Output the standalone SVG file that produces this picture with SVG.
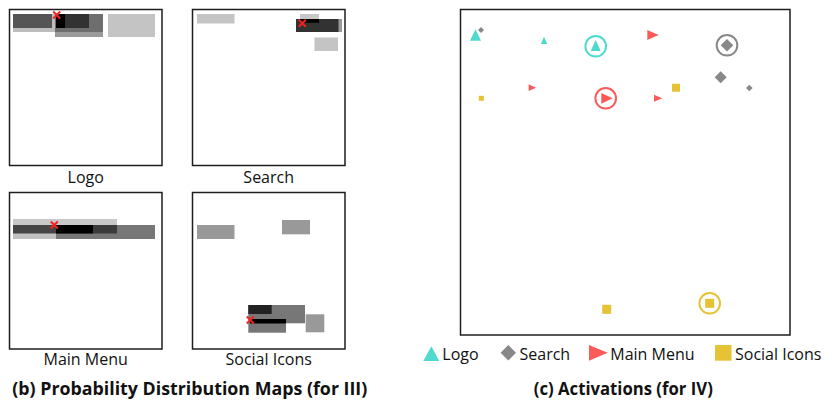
<svg xmlns="http://www.w3.org/2000/svg" width="825" height="403" viewBox="0 0 825 403">
<style>
  .frame { fill: #fff; stroke: #1e1e1e; stroke-width: 1.5; }
  .lbl { font-family: "Open Sans", "Liberation Sans", sans-serif; font-size: 16px; fill: #111; }
  .cap { font-family: "Open Sans", "Liberation Sans", sans-serif; font-size: 17px; font-weight: bold; fill: #111; }
  .x { stroke: #f2231f; stroke-width: 2; stroke-linecap: butt; }
  .teal { fill: #4fd9cf; }
  .red { fill: #fa5a58; }
  .gray { fill: #888; }
  .yel { fill: #e5c335; }
  .ring { fill: none; stroke-width: 2; }
</style>
<defs>
  <filter id="soft" x="-5%" y="-5%" width="110%" height="110%">
    <feGaussianBlur stdDeviation="0.5"/>
  </filter>
  <path id="xmark" d="M-3.5,-3.5 L3.5,3.5 M3.5,-3.5 L-3.5,3.5"/>
</defs>
<rect width="825" height="403" fill="#fff"/>

<!-- Logo map -->
<g id="map-logo">
  <rect class="frame" x="9.5" y="9.5" width="152.5" height="156"/>
  <g filter="url(#soft)">
    <rect x="13" y="14" width="44" height="18" fill="#bdbdbd"/>
    <rect x="55" y="14" width="48" height="23" fill="#9a9a9a"/>
    <rect x="55" y="14" width="48" height="18" fill="#6e6e6e"/>
    <rect x="13" y="14" width="39" height="14" fill="#555"/>
    <rect x="56" y="14" width="33" height="14" fill="#333"/>
    <rect x="56" y="14" width="9" height="14" fill="#000"/>
    <rect x="108" y="14" width="47" height="23" fill="#c4c4c4"/>
  </g>
  <use href="#xmark" class="x" x="56.7" y="15"/>
  <text class="lbl" x="85.7" y="183" text-anchor="middle">Logo</text>
</g>

<!-- Search map -->
<g id="map-search">
  <rect class="frame" x="192.5" y="9.5" width="152.5" height="156"/>
  <g filter="url(#soft)">
    <rect x="197" y="14" width="37.5" height="9.5" fill="#c4c4c4"/>
    <rect x="300" y="14" width="19" height="5.5" fill="#c8c8c8"/>
    <rect x="296" y="19" width="46" height="13" fill="#9a9a9a"/>
    <rect x="296" y="19" width="42.5" height="13" fill="#333"/>
    <rect x="300" y="19" width="19" height="3.7" fill="#000"/>
    <rect x="314.5" y="37.5" width="23.5" height="13.5" fill="#c4c4c4"/>
  </g>
  <use href="#xmark" class="x" x="302.3" y="23.3"/>
  <text class="lbl" x="268.7" y="183" text-anchor="middle">Search</text>
</g>

<!-- Main Menu map -->
<g id="map-mainmenu">
  <rect class="frame" x="9.5" y="192.5" width="152.5" height="156.5"/>
  <g filter="url(#soft)">
    <rect x="13" y="219" width="104" height="14.5" fill="#c8c8c8"/>
    <rect x="13" y="233" width="43" height="6" fill="#c0c0c0"/>
    <rect x="56" y="225" width="99" height="14" fill="#777"/>
    <rect x="13" y="225" width="80" height="8.5" fill="#444"/>
    <rect x="56" y="225" width="37" height="8.5" fill="#000"/>
    <rect x="93" y="225" width="24" height="8.5" fill="#3a3a3a"/>
  </g>
  <use href="#xmark" class="x" x="54.3" y="225"/>
  <text class="lbl" x="85.7" y="365" text-anchor="middle">Main Menu</text>
</g>

<!-- Social Icons map -->
<g id="map-social">
  <rect class="frame" x="192.5" y="192.5" width="152.5" height="156.5"/>
  <g filter="url(#soft)">
    <rect x="197" y="225" width="37.5" height="14" fill="#999"/>
    <rect x="282" y="220" width="28" height="14.3" fill="#999"/>
    <rect x="248.3" y="305" width="56.7" height="18.3" fill="#777"/>
    <rect x="248.3" y="305" width="23.4" height="9" fill="#222"/>
    <rect x="248.3" y="323" width="37.7" height="9.7" fill="#777"/>
    <rect x="250" y="319" width="36" height="4.5" fill="#000"/>
    <rect x="305.7" y="314.3" width="18.6" height="18" fill="#999"/>
  </g>
  <use href="#xmark" class="x" x="250.3" y="320"/>
  <text class="lbl" x="268.7" y="365" text-anchor="middle">Social Icons</text>
</g>

<text class="cap" x="189.8" y="395" text-anchor="middle" textLength="355" lengthAdjust="spacingAndGlyphs">(b) Probability Distribution Maps (for III)</text>

<!-- Activations plot -->
<g id="activations">
  <rect class="frame" x="460.5" y="9.5" width="329.5" height="325.5"/>
  <polygon class="teal" points="475.5,29.3 470,40.7 481,40.7"/>
  <polygon class="gray" points="481,27 484,30 481,33 478,30"/>
  <polygon class="teal" points="544,36.7 540.8,44 547.3,44"/>
  <circle class="ring" cx="595.7" cy="46.3" r="10.3" stroke="#4fd9cf"/>
  <polygon class="teal" points="595.7,40 590.7,51 600.7,51"/>
  <polygon class="red" points="647.3,30 647.3,40 658.7,35"/>
  <circle class="ring" cx="727" cy="45.3" r="10.3" stroke="#888"/>
  <polygon class="gray" points="727,39 733.3,45.3 727,51.6 720.7,45.3"/>
  <polygon class="red" points="528.7,84.3 528.7,91 536,87.7"/>
  <rect class="yel" x="478.8" y="95.8" width="5" height="5"/>
  <circle class="ring" cx="605.7" cy="98.3" r="10.3" stroke="#fa5a58"/>
  <polygon class="red" points="601.3,93 601.3,103.7 612.7,98.3"/>
  <polygon class="red" points="654,94.8 654,101.8 662.3,98.3"/>
  <rect class="yel" x="672" y="83.7" width="8" height="8"/>
  <polygon class="gray" points="720.7,71.3 726.7,77.3 720.7,83.3 714.7,77.3"/>
  <polygon class="gray" points="749.3,84.7 752.6,88 749.3,91.3 746,88"/>
  <rect class="yel" x="602.2" y="304.8" width="9" height="9"/>
  <circle class="ring" cx="709.7" cy="303.3" r="10.3" stroke="#e5c335"/>
  <rect class="yel" x="705.2" y="298.8" width="9" height="9"/>
</g>

<!-- Legend -->
<g id="legend">
  <polygon class="teal" points="431.3,346.2 423.3,361 439.3,361"/>
  <text class="lbl" x="442.3" y="359.5">Logo</text>
  <polygon class="gray" points="508.3,345 516,352.7 508.3,360.4 500.6,352.7"/>
  <text class="lbl" x="519.5" y="359.5">Search</text>
  <polygon class="red" points="589,345 589,360.7 607.7,352.8"/>
  <text class="lbl" x="610.3" y="359.5">Main Menu</text>
  <rect class="yel" x="715" y="345" width="16.5" height="15.7"/>
  <text class="lbl" x="735" y="359.5">Social Icons</text>
</g>

<text class="cap" x="623.3" y="395" text-anchor="middle" textLength="179" lengthAdjust="spacingAndGlyphs">(c) Activations (for IV)</text>
</svg>
